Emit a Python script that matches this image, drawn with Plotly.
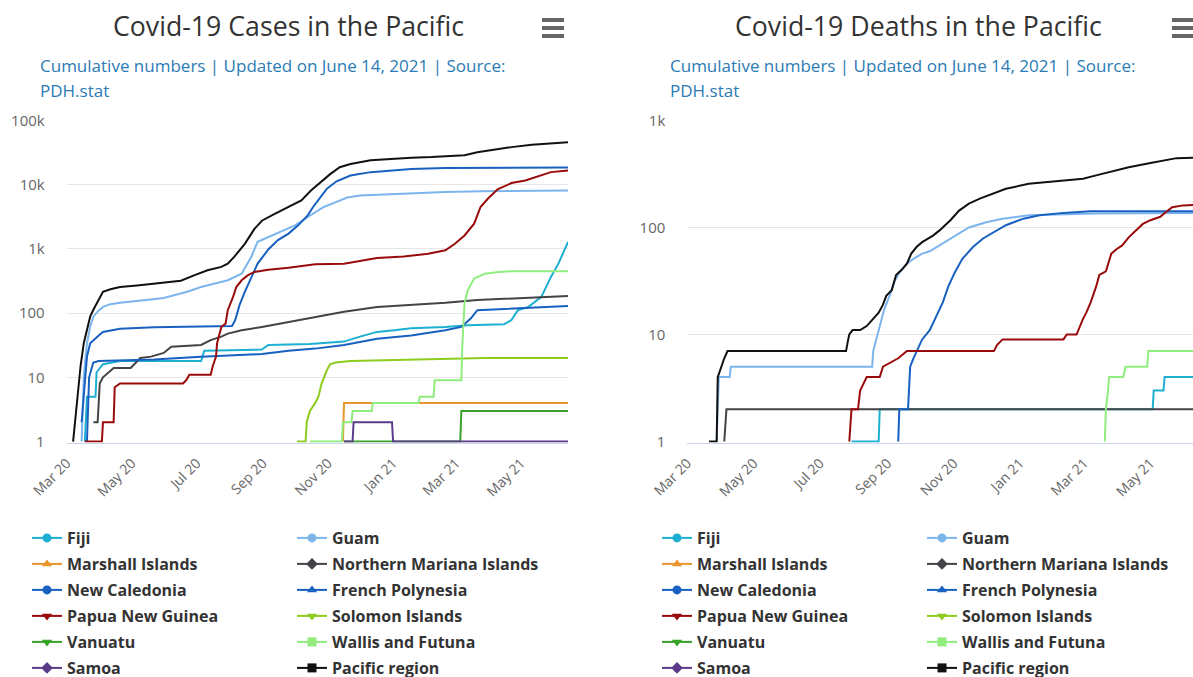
import plotly.graph_objects as go

COUNTRIES = [
    "Fiji", "Guam", "Marshall Islands", "Northern Mariana Islands",
    "New Caledonia", "French Polynesia", "Papua New Guinea", "Solomon Islands",
    "Vanuatu", "Wallis and Futuna", "Samoa", "Pacific region",
]
COLORS = [
    "#1cafd2", "#7cb5ec", "#e8962b", "#434348",
    "#1861c1", "#1861c1", "#990b0b", "#8ccc1e",
    "#38a12a", "#90ed7d", "#5b3a8a", "#111111",
]
SYMBOLS = [
    "circle", "circle", "triangle-up", "diamond",
    "circle", "triangle-up", "triangle-down", "triangle-down",
    "triangle-down", "square", "diamond", "square",
]

CASE_TICKS = [1, 10, 100, 1000, 10000, 100000]
CASE_TICK_TEXT = ["1", "10", "100", "1k", "10k", "100k"]
DEATH_TICKS = [1, 10, 100, 1000]
DEATH_TICK_TEXT = ["1", "10", "100", "1k"]

# cumulative cases (date, count)
FIJI_CASES = [("2020-03-18", 1), ("2020-03-20", 5), ("2020-03-28", 5), ("2020-03-29", 12), ("2020-04-04", 16),
              ("2020-04-11", 17), ("2020-04-20", 18), ("2020-07-05", 18), ("2020-07-08", 26), ("2020-08-31", 27),
              ("2020-09-06", 32), ("2020-10-15", 33), ("2020-11-16", 36), ("2020-12-01", 43), ("2020-12-17", 51),
              ("2021-01-02", 54), ("2021-01-18", 58), ("2021-02-19", 61), ("2021-03-12", 65), ("2021-04-15", 67),
              ("2021-04-22", 78), ("2021-04-28", 111), ("2021-05-08", 125), ("2021-05-20", 179), ("2021-05-29", 366),
              ("2021-06-05", 590), ("2021-06-14", 1280)]
GUAM_CASES = [("2020-03-15", 1), ("2020-03-17", 10), ("2020-03-20", 34), ("2020-03-23", 61), ("2020-03-26", 88),
              ("2020-03-31", 110), ("2020-04-04", 125), ("2020-04-11", 138), ("2020-04-20", 145), ("2020-05-06", 153),
              ("2020-05-19", 163), ("2020-05-31", 172), ("2020-06-13", 195), ("2020-06-22", 215), ("2020-07-05", 255),
              ("2020-07-17", 290), ("2020-07-30", 325), ("2020-08-12", 410), ("2020-08-21", 750), ("2020-08-27", 1290),
              ("2020-09-06", 1530), ("2020-09-18", 1830), ("2020-10-01", 2330), ("2020-10-13", 3140), ("2020-10-28", 4500),
              ("2020-11-09", 5400), ("2020-11-19", 6300), ("2020-12-01", 6800), ("2020-12-17", 7000), ("2021-01-18", 7400),
              ("2021-02-19", 7700), ("2021-03-24", 7900), ("2021-04-22", 8000), ("2021-06-14", 8100)]
MARSHALL_CASES = [("2020-11-15", 1), ("2020-11-16", 4), ("2021-06-14", 4)]
NMI_CASES = [("2020-03-26", 2), ("2020-03-30", 2), ("2020-03-31", 4), ("2020-04-01", 8), ("2020-04-04", 10),
             ("2020-04-09", 12), ("2020-04-14", 14), ("2020-04-30", 14), ("2020-05-09", 20), ("2020-05-19", 21),
             ("2020-05-31", 24), ("2020-06-07", 30), ("2020-07-05", 32), ("2020-07-14", 38), ("2020-07-24", 43),
             ("2020-07-30", 48), ("2020-08-12", 54), ("2020-08-31", 61), ("2020-09-25", 73), ("2020-10-15", 85),
             ("2020-11-16", 105), ("2020-12-17", 125), ("2021-01-18", 133), ("2021-02-19", 145), ("2021-03-21", 160),
             ("2021-04-22", 169), ("2021-05-23", 179), ("2021-06-14", 184)]
NC_CASES = [("2020-03-20", 1), ("2020-03-22", 10), ("2020-03-25", 15), ("2020-03-26", 17), ("2020-03-31", 18),
            ("2020-05-22", 19), ("2020-07-05", 21), ("2020-08-04", 22), ("2020-08-31", 23), ("2020-09-25", 26),
            ("2020-10-20", 28), ("2020-11-16", 32), ("2020-12-01", 36), ("2020-12-17", 40), ("2021-01-18", 45),
            ("2021-02-19", 54), ("2021-03-06", 61), ("2021-03-15", 83), ("2021-03-21", 111), ("2021-04-22", 118),
            ("2021-05-23", 125), ("2021-06-14", 129)]
FP_CASES = [("2020-03-15", 2), ("2020-03-18", 10), ("2020-03-20", 21), ("2020-03-23", 34), ("2020-03-26", 38),
            ("2020-03-31", 45), ("2020-04-04", 51), ("2020-04-11", 54), ("2020-04-20", 57), ("2020-05-22", 60),
            ("2020-06-22", 61), ("2020-08-03", 63), ("2020-08-06", 78), ("2020-08-10", 133), ("2020-08-15", 215),
            ("2020-08-21", 366), ("2020-08-27", 590), ("2020-09-06", 980), ("2020-09-15", 1370), ("2020-09-25", 1730),
            ("2020-10-04", 2330), ("2020-10-13", 3330), ("2020-10-18", 4500), ("2020-10-25", 6400), ("2020-10-31", 8700),
            ("2020-11-09", 11300), ("2020-11-22", 13900), ("2020-12-11", 15700), ("2020-12-30", 16700),
            ("2021-01-18", 17600), ("2021-02-19", 18200), ("2021-03-21", 18400), ("2021-06-14", 18600)]
PNG_CASES = [("2020-03-18", 1), ("2020-04-03", 1), ("2020-04-04", 2), ("2020-04-14", 2), ("2020-04-15", 7),
             ("2020-04-20", 8), ("2020-06-18", 8), ("2020-06-21", 9), ("2020-06-24", 11), ("2020-07-14", 11),
             ("2020-07-16", 15), ("2020-07-19", 21), ("2020-07-20", 34), ("2020-07-24", 61), ("2020-07-28", 69),
             ("2020-07-30", 111), ("2020-08-04", 179), ("2020-08-07", 255), ("2020-08-12", 325), ("2020-08-18", 390),
             ("2020-08-24", 438), ("2020-09-06", 475), ("2020-09-25", 510), ("2020-10-20", 575), ("2020-11-16", 590),
             ("2020-12-01", 650), ("2020-12-17", 720), ("2021-01-11", 765), ("2021-02-03", 840), ("2021-02-19", 950),
             ("2021-02-28", 1200), ("2021-03-09", 1620), ("2021-03-18", 2470), ("2021-03-24", 4500), ("2021-03-31", 6100),
             ("2021-04-09", 8500), ("2021-04-22", 10600), ("2021-05-05", 11600), ("2021-05-14", 13000),
             ("2021-05-29", 15700), ("2021-06-14", 16700)]
SOLOMON_CASES = [("2020-10-03", 1), ("2020-10-11", 1), ("2020-10-12", 2), ("2020-10-15", 3), ("2020-10-20", 4),
                 ("2020-10-23", 5), ("2020-10-26", 8), ("2020-10-31", 13), ("2020-11-03", 16), ("2020-11-08", 17),
                 ("2020-11-22", 18), ("2021-02-09", 19), ("2021-03-28", 20), ("2021-06-14", 20)]
VANUATU_CASES = [("2020-11-16", 1), ("2021-03-05", 1), ("2021-03-06", 3), ("2021-06-14", 3)]
WALLIS_CASES = [("2020-10-15", 1), ("2020-11-14", 1), ("2020-11-15", 2), ("2020-11-23", 2), ("2020-11-24", 3),
                ("2020-12-12", 3), ("2020-12-13", 4), ("2021-01-25", 4), ("2021-01-26", 5), ("2021-02-08", 5),
                ("2021-02-09", 9), ("2021-03-06", 9), ("2021-03-07", 34), ("2021-03-09", 141), ("2021-03-12", 226),
                ("2021-03-18", 347), ("2021-03-28", 410), ("2021-04-10", 438), ("2021-04-22", 450), ("2021-06-14", 450)]
SAMOA_CASES = [("2020-11-16", 1), ("2020-11-24", 1), ("2020-11-25", 2), ("2020-12-31", 2), ("2021-01-01", 1),
               ("2021-06-14", 1)]
PACIFIC_CASES = [("2020-03-07", 1), ("2020-03-10", 3), ("2020-03-12", 6), ("2020-03-14", 15), ("2020-03-17", 34),
                 ("2020-03-20", 55), ("2020-03-23", 88), ("2020-03-26", 113), ("2020-03-31", 160), ("2020-04-04", 215),
                 ("2020-04-11", 235), ("2020-04-20", 255), ("2020-05-06", 270), ("2020-05-22", 290), ("2020-06-07", 305),
                 ("2020-06-16", 320), ("2020-06-29", 390), ("2020-07-11", 465), ("2020-07-24", 525), ("2020-07-30", 590),
                 ("2020-08-05", 750), ("2020-08-15", 1200), ("2020-08-24", 2050), ("2020-08-31", 2750),
                 ("2020-09-12", 3500), ("2020-09-25", 4450), ("2020-10-07", 5700), ("2020-10-16", 8100),
                 ("2020-10-25", 11000), ("2020-11-03", 14600), ("2020-11-12", 18700), ("2020-11-22", 21000),
                 ("2020-12-11", 24000), ("2020-12-30", 25400), ("2021-01-18", 26400), ("2021-02-06", 27000),
                 ("2021-02-25", 27700), ("2021-03-09", 28800), ("2021-03-21", 32000), ("2021-04-03", 34700),
                 ("2021-04-22", 38500), ("2021-05-11", 42000), ("2021-05-29", 44600), ("2021-06-14", 46000)]

# cumulative deaths (date, count)
FIJI_DEATHS = [("2020-07-30", 1), ("2020-08-24", 1), ("2020-08-25", 2), ("2021-05-03", 2), ("2021-05-04", 3),
               ("2021-05-13", 3), ("2021-05-14", 4), ("2021-06-14", 4)]
GUAM_DEATHS = [("2020-03-28", 1), ("2020-03-30", 4), ("2020-04-09", 4), ("2020-04-10", 5), ("2020-08-18", 5),
               ("2020-08-19", 7), ("2020-08-23", 10), ("2020-08-26", 13), ("2020-08-29", 17), ("2020-09-03", 23),
               ("2020-09-08", 32), ("2020-09-12", 38), ("2020-09-19", 46), ("2020-09-25", 51), ("2020-10-03", 57),
               ("2020-10-10", 60), ("2020-10-22", 71), ("2020-11-03", 84), ("2020-11-15", 100), ("2020-12-01", 112),
               ("2020-12-16", 121), ("2021-01-09", 130), ("2021-02-10", 133), ("2021-03-12", 135), ("2021-06-14", 137)]
MARSHALL_DEATHS = []
NMI_DEATHS = [("2020-04-04", 1), ("2020-04-06", 2), ("2021-06-14", 2)]
NC_DEATHS = []
FP_DEATHS = [("2020-09-11", 1), ("2020-09-12", 2), ("2020-09-20", 2), ("2020-09-22", 5), ("2020-09-25", 6),
             ("2020-09-28", 7), ("2020-10-03", 9), ("2020-10-10", 11), ("2020-10-16", 15), ("2020-10-22", 20),
             ("2020-10-27", 28), ("2020-11-02", 38), ("2020-11-09", 51), ("2020-11-19", 66), ("2020-11-28", 79),
             ("2020-12-08", 91), ("2020-12-19", 105), ("2021-01-04", 121), ("2021-01-19", 130), ("2021-02-10", 137),
             ("2021-03-07", 142), ("2021-06-14", 142)]
PNG_DEATHS = [("2020-07-28", 1), ("2020-07-30", 2), ("2020-08-05", 2), ("2020-08-07", 3), ("2020-08-13", 4),
              ("2020-08-25", 4), ("2020-08-28", 5), ("2020-09-11", 6), ("2020-09-19", 7), ("2020-12-08", 7),
              ("2020-12-11", 8), ("2020-12-16", 9), ("2021-02-10", 9), ("2021-02-13", 10), ("2021-02-22", 10),
              ("2021-02-25", 12), ("2021-02-28", 14), ("2021-03-03", 16), ("2021-03-07", 20), ("2021-03-12", 28),
              ("2021-03-15", 36), ("2021-03-21", 39), ("2021-03-26", 57), ("2021-03-31", 63), ("2021-04-05", 68),
              ("2021-04-11", 81), ("2021-04-18", 94), ("2021-04-24", 108), ("2021-05-01", 117), ("2021-05-10", 126),
              ("2021-05-15", 139), ("2021-05-21", 155), ("2021-05-31", 161), ("2021-06-14", 163)]
SOLOMON_DEATHS = []
VANUATU_DEATHS = []
WALLIS_DEATHS = [("2021-03-20", 1), ("2021-03-21", 2), ("2021-03-23", 3), ("2021-03-24", 4), ("2021-04-06", 4),
                 ("2021-04-08", 5), ("2021-04-28", 5), ("2021-04-29", 7), ("2021-06-14", 7)]
SAMOA_DEATHS = []
PACIFIC_DEATHS = [("2020-03-21", 1), ("2020-03-28", 1), ("2020-03-29", 4), ("2020-04-01", 5), ("2020-04-04", 6),
                  ("2020-04-07", 7), ("2020-07-25", 7), ("2020-07-27", 9), ("2020-07-28", 10), ("2020-07-31", 11),
                  ("2020-08-07", 11), ("2020-08-13", 12), ("2020-08-19", 14), ("2020-08-24", 16), ("2020-08-28", 19),
                  ("2020-08-31", 23), ("2020-09-05", 26), ("2020-09-09", 36), ("2020-09-14", 40), ("2020-09-19", 46),
                  ("2020-09-23", 57), ("2020-09-28", 66), ("2020-10-03", 73), ("2020-10-13", 84), ("2020-10-19", 94),
                  ("2020-10-29", 117), ("2020-11-06", 144), ("2020-11-15", 167), ("2020-11-25", 186),
                  ("2020-12-08", 207), ("2020-12-19", 230), ("2021-01-09", 256), ("2021-02-04", 271),
                  ("2021-02-28", 286), ("2021-03-12", 307), ("2021-03-24", 330), ("2021-04-11", 366),
                  ("2021-05-01", 400), ("2021-05-13", 425), ("2021-05-25", 445), ("2021-06-14", 450)]

CASES = [FIJI_CASES, GUAM_CASES, MARSHALL_CASES, NMI_CASES, NC_CASES, FP_CASES,
         PNG_CASES, SOLOMON_CASES, VANUATU_CASES, WALLIS_CASES, SAMOA_CASES, PACIFIC_CASES]
DEATHS = [FIJI_DEATHS, GUAM_DEATHS, MARSHALL_DEATHS, NMI_DEATHS, NC_DEATHS, FP_DEATHS,
          PNG_DEATHS, SOLOMON_DEATHS, VANUATU_DEATHS, WALLIS_DEATHS, SAMOA_DEATHS, PACIFIC_DEATHS]

W, H = 1193, 677
FONT = "Open Sans"
SUBTITLE_1 = "Cumulative numbers | Updated on June 14, 2021 | Source:"
SUBTITLE_2 = "PDH.stat"


def px(x):
    return x / W


def py(y):
    return 1 - y / H


fig = go.Figure()

for series, axis in ((CASES, ("x", "y")), (DEATHS, ("x2", "y2"))):
    for name, color, pts in zip(COUNTRIES, COLORS, series):
        fig.add_trace(go.Scatter(
            x=[d for d, _ in pts], y=[v for _, v in pts],
            mode="lines", name=name, showlegend=False,
            line={"color": color, "width": 2},
            xaxis=axis[0], yaxis=axis[1],
        ))

# Why: legend entries need line+marker while the plotted lines carry no markers.
legend_cols = [("legend", "legend2", "x", "y", "L"), ("legend3", "legend4", "x2", "y2", "R")]
for left_leg, right_leg, xa, ya, tag in legend_cols:
    for i, (name, color, sym) in enumerate(zip(COUNTRIES, COLORS, SYMBOLS)):
        fig.add_trace(go.Scatter(
            x=[None], y=[None], mode="lines+markers", name=name,
            line={"color": color, "width": 2},
            marker={"symbol": sym, "size": 9, "color": color},
            legend=left_leg if i % 2 == 0 else right_leg,
            legendgroup=f"{tag}{name}", xaxis=xa, yaxis=ya,
        ))

legend_style = dict(
    orientation="v", yanchor="top", xanchor="left", y=py(521),
    font={"family": FONT, "size": 16, "color": "#333333", "weight": "bold"},
    bgcolor="rgba(0,0,0,0)", traceorder="grouped", tracegroupgap=2.2,
    itemclick=False, itemdoubleclick=False,
)

xaxis_style = dict(
    type="date", tick0="2020-03-01", dtick="M2", tickformat="%b %y", tickangle=-45,
    showgrid=False, showline=True, linecolor="#ccd6eb", linewidth=1, ticks="",
    tickfont={"family": FONT, "size": 14, "color": "#666666"}, zeroline=False,
    ticklabelstandoff=6, automargin=False,
)
yaxis_style = dict(
    type="log", gridcolor="#e6e6e6", gridwidth=1, showline=False, zeroline=False, ticks="",
    tickfont={"family": FONT, "size": 15, "color": "#666666"}, ticklabelstandoff=21,
    domain=[py(442.5), py(120.5)], automargin=False,
)

fig.update_layout(
    width=W, height=H,
    margin={"l": 0, "r": 0, "t": 0, "b": 0, "autoexpand": False},
    paper_bgcolor="white", plot_bgcolor="white",
    font={"family": FONT, "color": "#333333"},
    xaxis=dict(xaxis_style, domain=[px(66.7), px(568)], range=["2020-03-01", "2021-06-14"], anchor="y"),
    yaxis=dict(yaxis_style, range=[-0.015, 5], tickvals=CASE_TICKS, ticktext=CASE_TICK_TEXT, anchor="x"),
    xaxis2=dict(xaxis_style, domain=[px(687.3), 1.0], range=["2020-03-01", "2021-06-09 03:00"], anchor="y2"),
    yaxis2=dict(yaxis_style, range=[-0.009, 3], tickvals=DEATH_TICKS, ticktext=DEATH_TICK_TEXT, anchor="x2"),
    legend=dict(legend_style, x=px(27)),
    legend2=dict(legend_style, x=px(292)),
    legend3=dict(legend_style, x=px(657)),
    legend4=dict(legend_style, x=px(922)),
    showlegend=True,
)

titles = [("Covid-19 Cases in the Pacific", 288, 38), ("Covid-19 Deaths in the Pacific", 918, 668)]
for text, cx, sx in titles:
    fig.add_annotation(text=text, x=px(cx), y=py(25), xref="paper", yref="paper",
                       xanchor="center", yanchor="middle", showarrow=False,
                       font={"family": FONT, "size": 26.7, "color": "#333333"})
    for line, yy in ((SUBTITLE_1, 65), (SUBTITLE_2, 91)):
        fig.add_annotation(text=line, x=px(sx), y=py(yy), xref="paper", yref="paper",
                           xanchor="left", yanchor="middle", showarrow=False,
                           font={"family": FONT, "size": 17, "color": "#2b7bb5"})

# hamburger export icons
for x0 in (542, 1172):
    for yy in (20, 28, 36):
        fig.add_shape(type="line", xref="paper", yref="paper",
                      x0=px(x0), x1=px(x0 + 22), y0=py(yy), y1=py(yy),
                      line={"color": "#666666", "width": 4})

# the page's default 8px body margin would shift the whole figure
fig.write_html("out.html", config={"displayModeBar": False},
               post_script="document.body.style.margin='0px';")
